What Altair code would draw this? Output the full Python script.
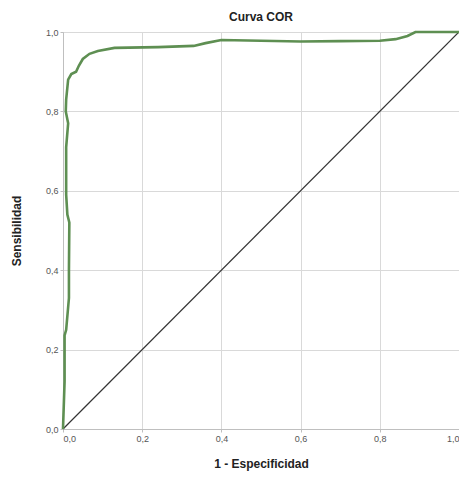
import altair as alt
import pandas as pd

# ROC curve points
fpr = [0.0, 0.004, 0.004, 0.008, 0.015, 0.015, 0.016, 0.011, 0.008, 0.008, 0.008,
       0.013, 0.007, 0.008, 0.013, 0.021, 0.033, 0.04, 0.05, 0.067, 0.088, 0.13,
       0.24, 0.33, 0.36, 0.40, 0.5, 0.6, 0.7, 0.8, 0.84, 0.87, 0.89, 1.0]
tpr = [0.0, 0.12, 0.236, 0.25, 0.33, 0.40, 0.52, 0.54, 0.59, 0.68, 0.71,
       0.77, 0.80, 0.83, 0.88, 0.894, 0.90, 0.915, 0.932, 0.945, 0.952, 0.96,
       0.962, 0.965, 0.972, 0.98, 0.978, 0.976, 0.977, 0.978, 0.982, 0.99, 1.0, 1.0]
diag_x = [0.0, 1.0]
diag_y = [0.0, 1.0]
ticks = [0.0, 0.2, 0.4, 0.6, 0.8, 1.0]

curve = pd.DataFrame({"x": fpr, "y": tpr, "i": list(range(len(fpr)))})
diag = pd.DataFrame({"x": diag_x, "y": diag_y, "i": [0, 1]})

label_expr = "replace(format(datum.value, '.1f'), '.', ',')"

common = dict(values=ticks, labelExpr=label_expr, grid=True, gridColor="#d9d9d9",
              domainColor="#bfbfbf", tickColor="#bfbfbf", tickSize=3, labelFontSize=9,
              labelColor="#555555", titleFontSize=12, titleFontWeight="bold",
              titleColor="#222222", labelFont="Liberation Sans", titleFont="Liberation Sans")

xenc = alt.X("x:Q", scale=alt.Scale(domain=[0, 1], nice=False),
             axis=alt.Axis(title="1 - Especificidad", titlePadding=15, **common))
yenc = alt.Y("y:Q", scale=alt.Scale(domain=[0, 1], nice=False),
             axis=alt.Axis(title="Sensibilidad", titlePadding=22, **common))

diag_line = alt.Chart(diag).mark_line(color="#333333", strokeWidth=1.2).encode(
    x=xenc, y=yenc, order="i:Q")
roc_line = alt.Chart(curve).mark_line(color="#5e8f52", strokeWidth=2.6).encode(
    x=xenc, y=yenc, order="i:Q")

chart = (diag_line + roc_line).properties(
    width=396, height=397,
    title=alt.TitleParams("Curva COR", fontSize=12, fontWeight="bold",
                          font="Liberation Sans", color="#222222", offset=3),
    autosize=alt.AutoSizeParams(type="none"),
    padding={"left": 55, "top": 24, "right": 0, "bottom": 43},
).configure_view(stroke="#b9cfd6", strokeWidth=1)

chart.save("out.html", embed_options={"renderer": "svg", "actions": False})
